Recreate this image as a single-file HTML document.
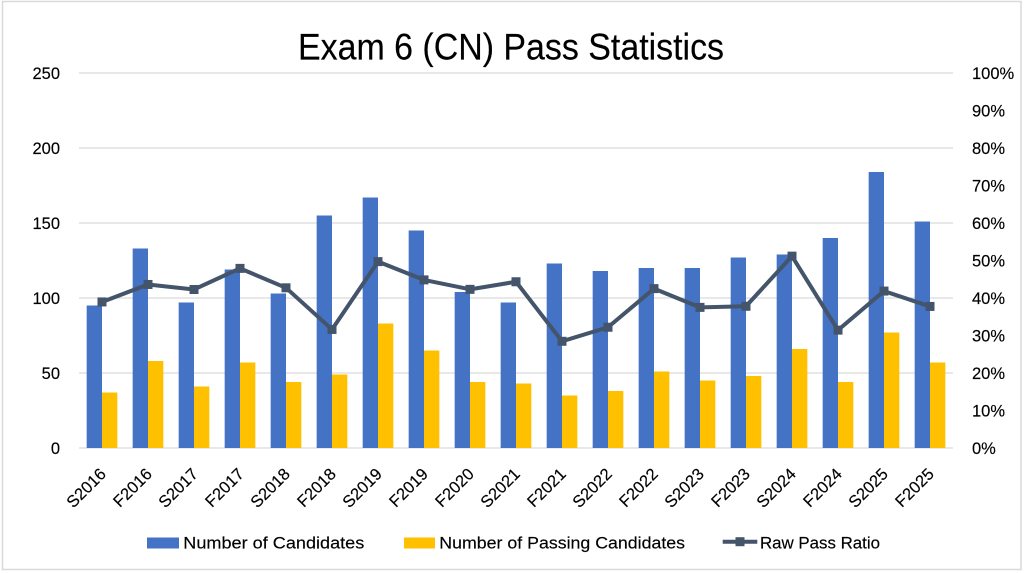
<!DOCTYPE html>
<html>
<head>
<meta charset="utf-8">
<style>
  html, body { margin: 0; padding: 0; background: #fff; }
  svg { display: block; }
  text { font-family: "Liberation Sans", Arial, sans-serif; fill: #000; stroke: #000; stroke-width: 0.15; }
</style>
</head>
<body>
<svg width="1024" height="573" viewBox="0 0 1024 573" xmlns="http://www.w3.org/2000/svg">
  <rect x="0" y="0" width="1024" height="573" fill="#fff"/>
  <rect x="2.5" y="1.5" width="1018.5" height="568" fill="none" stroke="#D9D9D9" stroke-width="1.5"/>

  <!-- Title -->
  <text x="298" y="59.5" font-size="37" textLength="426" lengthAdjust="spacingAndGlyphs">Exam 6 (CN) Pass Statistics</text>

  <!-- Gridlines -->
  <g stroke="#D9D9D9" stroke-width="1.3">
    <line x1="79" y1="73" x2="953" y2="73"/>
    <line x1="79" y1="148" x2="953" y2="148"/>
    <line x1="79" y1="223" x2="953" y2="223"/>
    <line x1="79" y1="298" x2="953" y2="298"/>
    <line x1="79" y1="373" x2="953" y2="373"/>
    <line x1="79" y1="448" x2="953" y2="448"/>
  </g>

  <!-- Left axis labels -->
  <g font-size="16.5" text-anchor="end">
    <text x="60" y="79">250</text>
    <text x="60" y="154">200</text>
    <text x="60" y="229">150</text>
    <text x="60" y="304">100</text>
    <text x="60" y="379">50</text>
    <text x="60" y="454">0</text>
  </g>

  <!-- Right axis labels -->
  <g font-size="16.5">
    <text x="972" y="79">100%</text>
    <text x="972" y="116.5">90%</text>
    <text x="972" y="154">80%</text>
    <text x="972" y="191.5">70%</text>
    <text x="972" y="229">60%</text>
    <text x="972" y="266.5">50%</text>
    <text x="972" y="304">40%</text>
    <text x="972" y="341.5">30%</text>
    <text x="972" y="379">20%</text>
    <text x="972" y="416.5">10%</text>
    <text x="972" y="454">0%</text>
  </g>

  <!-- Blue bars -->
  <g fill="#4472C4">
    <rect x="86.67" y="305.5" width="15.33" height="142.5"/>
    <rect x="132.67" y="248.5" width="15.33" height="199.5"/>
    <rect x="178.67" y="302.5" width="15.33" height="145.5"/>
    <rect x="224.67" y="269.5" width="15.33" height="178.5"/>
    <rect x="270.67" y="293.5" width="15.33" height="154.5"/>
    <rect x="316.67" y="215.5" width="15.33" height="232.5"/>
    <rect x="362.67" y="197.5" width="15.33" height="250.5"/>
    <rect x="408.67" y="230.5" width="15.33" height="217.5"/>
    <rect x="454.67" y="292" width="15.33" height="156"/>
    <rect x="500.67" y="302.5" width="15.33" height="145.5"/>
    <rect x="546.67" y="263.5" width="15.33" height="184.5"/>
    <rect x="592.67" y="271" width="15.33" height="177"/>
    <rect x="638.67" y="268" width="15.33" height="180"/>
    <rect x="684.67" y="268" width="15.33" height="180"/>
    <rect x="730.67" y="257.5" width="15.33" height="190.5"/>
    <rect x="776.67" y="254.5" width="15.33" height="193.5"/>
    <rect x="822.67" y="238" width="15.33" height="210"/>
    <rect x="868.67" y="172" width="15.33" height="276"/>
    <rect x="914.67" y="221.5" width="15.33" height="226.5"/>
  </g>

  <!-- Yellow bars -->
  <g fill="#FFC000">
    <rect x="102" y="392.5" width="15.33" height="55.5"/>
    <rect x="148" y="361" width="15.33" height="87"/>
    <rect x="194" y="386.5" width="15.33" height="61.5"/>
    <rect x="240" y="362.5" width="15.33" height="85.5"/>
    <rect x="286" y="382" width="15.33" height="66"/>
    <rect x="332" y="374.5" width="15.33" height="73.5"/>
    <rect x="378" y="323.5" width="15.33" height="124.5"/>
    <rect x="424" y="350.5" width="15.33" height="97.5"/>
    <rect x="470" y="382" width="15.33" height="66"/>
    <rect x="516" y="383.5" width="15.33" height="64.5"/>
    <rect x="562" y="395.5" width="15.33" height="52.5"/>
    <rect x="608" y="391" width="15.33" height="57"/>
    <rect x="654" y="371.5" width="15.33" height="76.5"/>
    <rect x="700" y="380.5" width="15.33" height="67.5"/>
    <rect x="746" y="376" width="15.33" height="72"/>
    <rect x="792" y="349" width="15.33" height="99"/>
    <rect x="838" y="382" width="15.33" height="66"/>
    <rect x="884" y="332.5" width="15.33" height="115.5"/>
    <rect x="930" y="362.5" width="15.33" height="85.5"/>
  </g>

  <!-- Ratio line -->
  <polyline fill="none" stroke="#44546A" stroke-width="4" stroke-linejoin="round"
    points="102,301.95 148,284.47 194,289.49 240,268.38 286,287.81 332,329.45 378,261.62 424,279.9 470,289.35 516,281.76 562,341.29 608,327.24 654,288.63 700,307.38 746,306.27 792,256.14 838,330.14 884,291.07 930,306.44"/>
  <g fill="#44546A">
    <rect x="97.5" y="297.45" width="9" height="9"/>
    <rect x="143.5" y="279.97" width="9" height="9"/>
    <rect x="189.5" y="284.99" width="9" height="9"/>
    <rect x="235.5" y="263.88" width="9" height="9"/>
    <rect x="281.5" y="283.31" width="9" height="9"/>
    <rect x="327.5" y="324.95" width="9" height="9"/>
    <rect x="373.5" y="257.12" width="9" height="9"/>
    <rect x="419.5" y="275.4" width="9" height="9"/>
    <rect x="465.5" y="284.85" width="9" height="9"/>
    <rect x="511.5" y="277.26" width="9" height="9"/>
    <rect x="557.5" y="336.79" width="9" height="9"/>
    <rect x="603.5" y="322.74" width="9" height="9"/>
    <rect x="649.5" y="284.13" width="9" height="9"/>
    <rect x="695.5" y="302.88" width="9" height="9"/>
    <rect x="741.5" y="301.77" width="9" height="9"/>
    <rect x="787.5" y="251.64" width="9" height="9"/>
    <rect x="833.5" y="325.64" width="9" height="9"/>
    <rect x="879.5" y="286.57" width="9" height="9"/>
    <rect x="925.5" y="301.94" width="9" height="9"/>
  </g>

  <!-- X axis labels -->
  <g font-size="16.5" text-anchor="end">
    <text transform="translate(107,475) rotate(-45)">S2016</text>
    <text transform="translate(153,475) rotate(-45)">F2016</text>
    <text transform="translate(199,475) rotate(-45)">S2017</text>
    <text transform="translate(245,475) rotate(-45)">F2017</text>
    <text transform="translate(291,475) rotate(-45)">S2018</text>
    <text transform="translate(337,475) rotate(-45)">F2018</text>
    <text transform="translate(383,475) rotate(-45)">S2019</text>
    <text transform="translate(429,475) rotate(-45)">F2019</text>
    <text transform="translate(475,475) rotate(-45)">F2020</text>
    <text transform="translate(521,475) rotate(-45)">S2021</text>
    <text transform="translate(567,475) rotate(-45)">F2021</text>
    <text transform="translate(613,475) rotate(-45)">S2022</text>
    <text transform="translate(659,475) rotate(-45)">F2022</text>
    <text transform="translate(705,475) rotate(-45)">S2023</text>
    <text transform="translate(751,475) rotate(-45)">F2023</text>
    <text transform="translate(797,475) rotate(-45)">S2024</text>
    <text transform="translate(843,475) rotate(-45)">F2024</text>
    <text transform="translate(889,475) rotate(-45)">S2025</text>
    <text transform="translate(935,475) rotate(-45)">F2025</text>
  </g>

  <!-- Legend -->
  <rect x="147" y="537.5" width="32" height="11" fill="#4472C4"/>
  <text x="183.3" y="548.3" font-size="16.5" textLength="181" lengthAdjust="spacingAndGlyphs">Number of Candidates</text>
  <rect x="404" y="537.5" width="31" height="11" fill="#FFC000"/>
  <text x="439.3" y="548.3" font-size="16.5" textLength="245.7" lengthAdjust="spacingAndGlyphs">Number of Passing Candidates</text>
  <line x1="722.7" y1="541.7" x2="757.3" y2="541.7" stroke="#44546A" stroke-width="4"/>
  <rect x="735.5" y="537.2" width="9" height="9" fill="#44546A"/>
  <text x="760" y="548.3" font-size="16.5" textLength="120" lengthAdjust="spacingAndGlyphs">Raw Pass Ratio</text>
</svg>
</body>
</html>
